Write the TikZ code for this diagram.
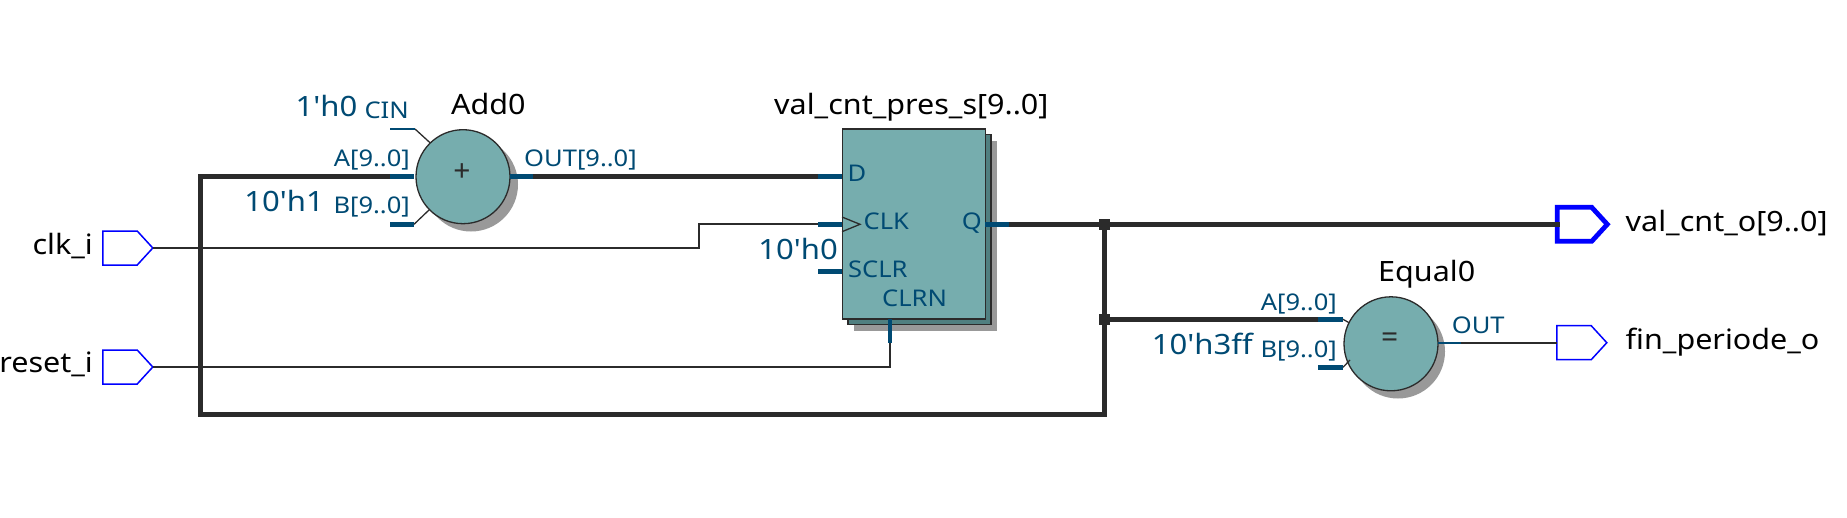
\documentclass[tikz,border=0pt]{standalone}
\usepackage{fontspec}
\setmainfont{Noto Sans}[Ligatures=TeXOff]
\newfontfamily\namefont{Noto Sans}[Ligatures=TeXOff,FakeStretch=1.09]
\newfontfamily\pinfont{Noto Sans}[Ligatures=TeXOff,FakeStretch=1.11]
\newfontfamily\constfont{Noto Sans}[Ligatures=TeXOff,FakeStretch=1.11]
\usetikzlibrary{shapes.symbols,calc}
\definecolor{tealfill}{HTML}{76ADAE}
\definecolor{tealback}{HTML}{507F80}
\definecolor{pincol}{HTML}{004A73}
\definecolor{wirecol}{HTML}{2B2B2B}
\definecolor{shadowcol}{HTML}{999999}
\definecolor{portblue}{HTML}{0000FF}
\tikzset{
  x=1pt,y=-1pt,
  thickwire/.style={draw=wirecol,line width=4.8pt,line cap=rect,line join=miter},
  thinwire/.style={draw=wirecol,line width=1.8pt,line join=miter},
  busstub/.style={draw=pincol,line width=4.8pt},
  bitstub/.style={draw=pincol,line width=1.8pt},
  lead/.style={draw=wirecol,line width=1.3pt},
  opnode/.style={circle,draw=wirecol,line width=1.3pt,fill=tealfill,minimum size=94pt,inner sep=0pt},
  opshadow/.style={circle,fill=shadowcol,minimum size=94pt,inner sep=0pt},
  regbox/.style={rectangle,draw=wirecol,line width=1.4pt,fill=tealfill,minimum width=143pt,minimum height=190pt,inner sep=0pt},
  regback/.style={regbox,fill=tealback},
  regshadow/.style={rectangle,fill=shadowcol,minimum width=143pt,minimum height=190pt,inner sep=0pt},
  portshape/.style={signal,signal to=east,signal pointer angle=95,draw=portblue,fill=white,line width=1.5pt,minimum width=50pt,minimum height=34pt,inner sep=0pt,outer sep=0pt},
  busport/.style={portshape,line width=4.8pt},
  dot/.style={rectangle,fill=wirecol,minimum size=11pt,inner sep=0pt},
  pinlabel/.style={text=pincol,font=\pinfont\fontsize{23}{25}\selectfont,inner sep=0pt},
  constlabel/.style={text=pincol,font=\constfont\fontsize{28}{30}\selectfont,inner sep=0pt},
  namelabel/.style={text=black,font=\namefont\fontsize{28}{30}\selectfont,inner sep=0pt},
  symlabel/.style={text=wirecol,font=\fontsize{30}{32}\selectfont,inner sep=0pt},
}
\begin{document}
\begin{tikzpicture}
\useasboundingbox (0,0) rectangle (1847,517);
% shadows and bodies
\node[opshadow] (addsh) at (471,184.5) {};
\node[opnode] (add) at (463,176.7) {};
\node[opshadow] (eqsh) at (1398,351.5) {};
\node[opnode] (eq) at (1391,343.8) {};
\node[regshadow] (regsh) at (925.5,235.7) {};
\node[regback] (regb) at (919.5,229.7) {};
\node[regbox] (reg) at (913.7,224) {};
% ports
\node[portshape] (clk) at (120,248) {};
\node[portshape] (rst) at (120,367) {};
\node[busport] (valo) at (1574.5,224.3) {};
\node[portshape] (fino) at (1574,342.7) {};
% pin coordinates
\coordinate (pA) at (390,176.3);
\coordinate (pAe) at (414,176.3);
\coordinate (pB) at (390,224.3);
\coordinate (pBe) at (414,224.3);
\coordinate (pC) at (390,129);
\coordinate (pCe) at (415,129);
\coordinate (pOUTs) at (510,176.3);
\coordinate (pOUT) at (532.6,176.3);
\coordinate (rD) at (818,176.3);
\coordinate (rDe) at (842,176.3);
\coordinate (rC) at (818,224.3);
\coordinate (rCe) at (842,224.3);
\coordinate (rS) at (818,271.3);
\coordinate (rSe) at (842,271.3);
\coordinate (rQs) at (985.4,224.3);
\coordinate (rQ) at (1008.7,224.3);
\coordinate (rRs) at (890,319);
\coordinate (rR) at (890,343);
\coordinate (eA) at (1318,319.3);
\coordinate (eAe) at (1343,319.3);
\coordinate (eB) at (1318,367.3);
\coordinate (eBe) at (1343,367.3);
\coordinate (eOs) at (1438,342.7);
\coordinate (eO) at (1461,342.7);
\coordinate (cb) at (699,224.3);
\coordinate (loopbl) at (200.5,414.3);
\node[dot] (j1) at (1104.6,224.3) {};
\node[dot] (j2) at (1104.6,319.3) {};
% wires
\draw[thinwire] (clk.east) -| (cb) -- (rC);
\draw[thinwire] (rst.east) -| (rR);
\draw[thickwire] (j1) |- (loopbl) |- (pA);
\draw[thickwire] (pOUT) -- (rD);
\draw[thickwire] (rQ) -- (valo.west);
\draw[thickwire] (j2) -- (eA);
\draw[thinwire] (eO) -- (fino.west);
% leads and stubs
\draw[lead] (pCe) -- (430,142.7);
\draw[lead] (pBe) -- (429,210);
\draw[lead] (eAe) -- (1349,322.7);
\draw[lead] (eBe) -- (1350,360);
\draw[bitstub] (pC) -- (pCe);
\draw[busstub] (pA) -- (pAe);
\draw[busstub] (pB) -- (pBe);
\draw[busstub] (pOUTs) -- (pOUT);
\draw[busstub] (rD) -- (rDe);
\draw[busstub] (rC) -- (rCe);
\draw[busstub] (rS) -- (rSe);
\draw[busstub] (rQs) -- (rQ);
\draw[busstub] (rRs) -- (rR);
\draw[busstub] (eA) -- (eAe);
\draw[busstub] (eB) -- (eBe);
\draw[bitstub] (eOs) -- (eO);
\draw[lead] (842,217) -- (860,224.3) -- (842,231.7);
\node[dot] (j1b) at (1104.6,224.3) {};
\node[dot] (j2b) at (1104.6,319.3) {};
% operators
\node[symlabel,anchor=center] (plus) at (462,172.7) {+};
\node[symlabel,anchor=center] (eqs) at (1389.7,340) {=};
% labels
\node[constlabel,anchor=base east] (l1) at (357.5,116.7) {1'h0};
\node[pinlabel,anchor=base east] (l2) at (409,118.7) {CIN};
\node[namelabel,anchor=base west] (l3) at (451,114.3) {Add0};
\node[pinlabel,anchor=base east] (l4) at (410,166.7) {A[9..0]};
\node[constlabel,anchor=base east] (l5) at (324,211.7) {10'h1};
\node[pinlabel,anchor=base east] (l6) at (410,213) {B[9..0]};
\node[pinlabel,anchor=base west] (l7) at (524,166.7) {OUT[9..0]};
\node[namelabel,anchor=base east] (l8) at (93,254) {clk\_i};
\node[namelabel,anchor=base east] (l9) at (93,372.7) {reset\_i};
\node[namelabel,anchor=base west] (l10) at (774,114.3) {val\_cnt\_pres\_s[9..0]};
\node[pinlabel,anchor=base west] (l11) at (847.5,181.7) {D};
\node[pinlabel,anchor=base west] (l12) at (863.5,229.3) {CLK};
\node[pinlabel,anchor=base east] (l13) at (982,229.3) {Q};
\node[constlabel,anchor=base east] (l14) at (838,259.3) {10'h0};
\node[pinlabel,anchor=base west] (l15) at (848,277.3) {SCLR};
\node[pinlabel,anchor=base west] (l16) at (882,306.3) {CLRN};
\node[namelabel,anchor=base west] (l17) at (1625.5,231) {val\_cnt\_o[9..0]};
\node[namelabel,anchor=base west] (l18) at (1625.5,349) {fin\_periode\_o};
\node[namelabel,anchor=base west] (l19) at (1378,281.7) {Equal0};
\node[pinlabel,anchor=base east] (l20) at (1337,310) {A[9..0]};
\node[pinlabel,anchor=base east] (l21) at (1337,357.3) {B[9..0]};
\node[constlabel,anchor=base east] (l22) at (1253,354.3) {10'h3ff};
\node[pinlabel,anchor=base west] (l23) at (1451.6,333.3) {OUT};
\end{tikzpicture}
\end{document}
